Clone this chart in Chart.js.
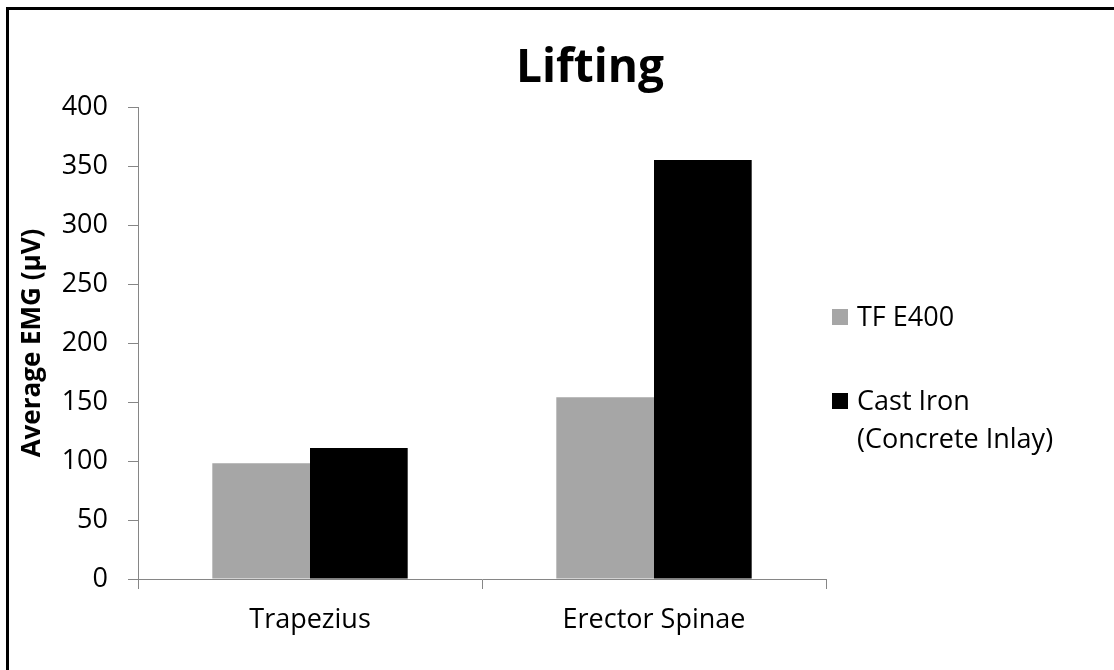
<!DOCTYPE html>
<html>
<head>
<meta charset="utf-8">
<script src="https://cdn.jsdelivr.net/npm/chart.js@4"></script>
<style>
	body { margin: 0; background: #fff; }
	#wrap { position: relative; width: 1114px; height: 670px; }
</style>
</head>
<body>
<div id="wrap"><canvas id="lifting" width="1114" height="670"></canvas></div>
<script>
var muscles = ['Trapezius', 'Erector Spinae']
var tfE400 = [98, 154]
var castIron = [111, 355]
var seriesNames = ['TF E400', ['Cast Iron', '(Concrete Inlay)']]
var yTicks = [0, 50, 100, 150, 200, 250, 300, 350, 400]

var font = '"Open Sans", "Liberation Sans", sans-serif'

// title, legend and the frame lines, drawn around the plot
var extras = {
	id: 'extras',
	afterDraw: function(chart) {
		var ctx = chart.ctx
		ctx.save()
		ctx.fillStyle = '#000'
		ctx.fillRect(6, 7, 1108, 3)
		ctx.fillRect(6, 7, 3, 663)

		ctx.font = 'bold 46px ' + font
		ctx.textAlign = 'center'
		ctx.textBaseline = 'alphabetic'
		ctx.fillText('Lifting', 590, 82)

		ctx.font = '27px ' + font
		ctx.textAlign = 'left'
		var baselines = [326, 410]
		chart.data.datasets.forEach(function(ds, i) {
			ctx.fillStyle = ds.backgroundColor
			ctx.fillRect(832, baselines[i] - 17, 16, 16)
			ctx.fillStyle = '#000'
			var lines = [].concat(seriesNames[i])
			lines.forEach(function(line, j) {
				ctx.fillText(line, 857, baselines[i] + j * 38)
			})
		})
		ctx.restore()
	}
}

var chart = new Chart(document.getElementById('lifting').getContext('2d'), {
	type: 'bar',
	data: {
		labels: muscles,
		datasets: [
			{ label: 'TF E400', data: tfE400, backgroundColor: '#A6A6A6' },
			{ label: 'Cast Iron (Concrete Inlay)', data: castIron, backgroundColor: '#000000' }
		]
	},
	options: {
		responsive: false,
		animation: false,
		datasets: { bar: { categoryPercentage: 0.568, barPercentage: 1.0 } },
		layout: { padding: { left: 10, right: 288, top: 107, bottom: 0 } },
		plugins: {
			legend: { display: false },
			title: { display: false },
			tooltip: { enabled: false }
		},
		scales: {
			x: {
				afterFit: function(scale) { scale.height = 91 },
				grid: { drawOnChartArea: false, tickLength: 10, color: '#868686', offset: true },
				border: { color: '#868686' },
				ticks: { color: '#000', padding: 15, font: { family: font, size: 27 } }
			},
			y: {
				min: 0,
				max: 400,
				afterFit: function(scale) { scale.width = 128 },
				afterBuildTicks: function(scale) {
					scale.ticks = yTicks.map(function(v) { return { value: v } })
				},
				grid: { drawOnChartArea: false, tickLength: 10, color: '#868686' },
				border: { color: '#868686' },
				ticks: { color: '#000', padding: 20, font: { family: font, size: 27 } },
				title: {
					display: true,
					text: 'Average EMG (μV)',
					color: '#000',
					padding: { top: 7, bottom: 0 },
					font: { family: font, size: 26, weight: 'bold' }
				}
			}
		}
	},
	plugins: [extras]
})
</script>
</body>
</html>
